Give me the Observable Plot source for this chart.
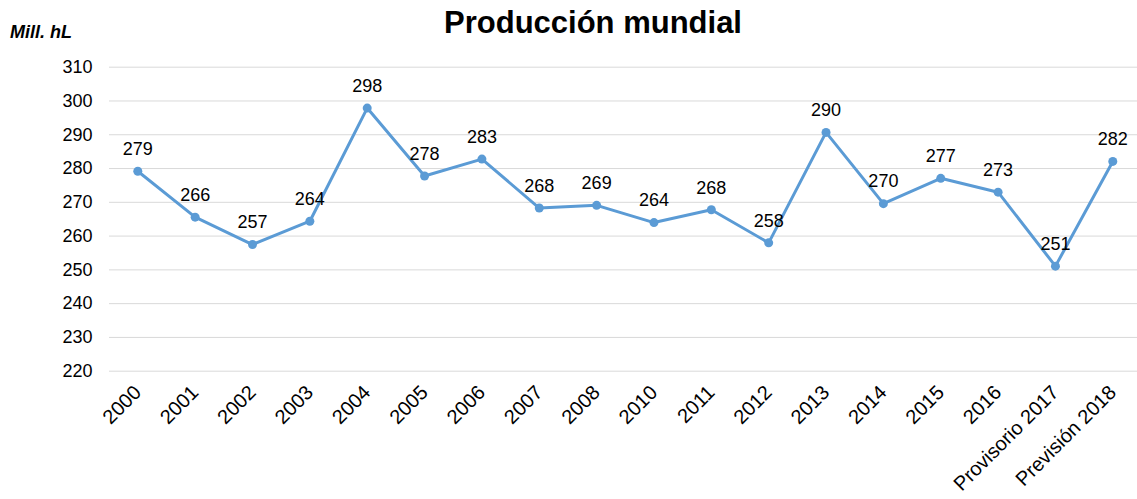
<!DOCTYPE html>
<html>
<head>
<meta charset="utf-8">
<script src="https://cdn.jsdelivr.net/npm/d3@7"></script>
<script src="https://cdn.jsdelivr.net/npm/@observablehq/plot@0.6"></script>
<style>
  html, body { margin: 0; padding: 0; background: #fff; }
  #wrap { position: relative; width: 1137px; height: 499px; font-family: "Liberation Sans", Arial, sans-serif; }
  #title { position: absolute; left: 0; width: 1186px; top: 5px; text-align: center; font-size: 31px; font-weight: bold; color: #000; }
  #unit { position: absolute; left: 10px; top: 22px; font-size: 18px; font-weight: bold; font-style: italic; color: #000; }
  #chart { position: absolute; left: 0; top: 0; }
</style>
</head>
<body>
<div id="wrap">
  <div id="chart"></div>
  <div id="title">Producción mundial</div>
  <div id="unit">Mill. hL</div>
</div>
<script>
const categories = ["2000","2001","2002","2003","2004","2005","2006","2007","2008","2010","2011","2012","2013","2014","2015","2016","Provisorio 2017","Previsión 2018"];
const values = [279.2, 265.6, 257.5, 264.4, 297.9, 277.8, 282.8, 268.3, 269.1, 264.0, 267.8, 258.0, 290.7, 269.6, 277.1, 273.0, 251.1, 282.1];
const labels = ["279","266","257","264","298","278","283","268","269","264","268","258","290","270","277","273","251","282"];
const yTicks = [220, 230, 240, 250, 260, 270, 280, 290, 300, 310];

const data = categories.map((c, i) => ({cat: c, v: values[i], label: labels[i]}));

const chart = Plot.plot({
  width: 1137,
  height: 499,
  marginLeft: 109,
  marginRight: 0,
  marginTop: 66.7,
  marginBottom: 128.3,
  style: {fontFamily: "'Liberation Sans', Arial, sans-serif", fontSize: "18px", color: "#000", background: "transparent"},
  x: {type: "point", domain: categories, range: [137.3, 1112.3], padding: 0, round: false, label: null},
  y: {domain: [220, 310], label: null},
  marks: [
    Plot.ruleY(yTicks, {stroke: "#d9d9d9", strokeWidth: 1}),
    Plot.axisY({ticks: yTicks, tickSize: 0, tickPadding: 17, label: null, fontSize: 18}),
    Plot.axisX({tickSize: 0, tickRotate: -45, tickPadding: 18, label: null, fontSize: 20}),
    Plot.line(data, {x: "cat", y: "v", stroke: "#5b9bd5", strokeWidth: 3}),
    Plot.dot(data, {x: "cat", y: "v", r: 4.5, fill: "#5b9bd5", stroke: null}),
    Plot.text(data, {x: "cat", y: "v", text: "label", dy: -22, fontSize: 18, fill: "#000"})
  ]
});
document.getElementById("chart").appendChild(chart);
</script>
</body>
</html>
